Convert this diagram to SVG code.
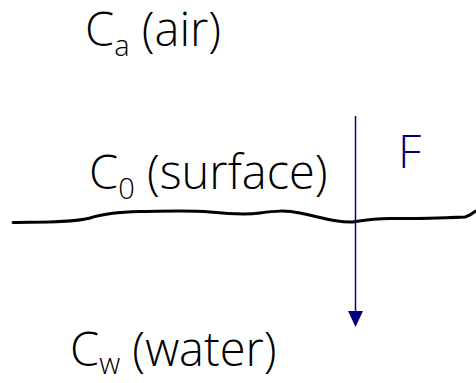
<svg xmlns="http://www.w3.org/2000/svg" width="476" height="383" viewBox="0 0 476 383">
<style>
.t{font-family:"Open Sans","Noto Sans",sans-serif;font-weight:300;font-size:47px;fill:#000}
.s{font-size:29px}
.f{font-family:"Open Sans","Noto Sans",sans-serif;font-weight:300;font-size:46px;fill:#000080}
</style>
<defs>
<marker id="ah" markerWidth="16" markerHeight="16" refX="2" refY="8" orient="auto" markerUnits="userSpaceOnUse" viewBox="0 0 16 16">
<path d="M0,0.5 L16,8 L0,15.5 Z" fill="#000080"/>
</marker>
</defs>
<rect width="476" height="383" fill="#fff"/>
<g id="surface-line">
<path d="M13,222.5 C40,222 70,223 90,218 C105,213 120,212 140,211.5 C170,211 190,210 210,212 C230,214 245,215 260,213 C275,211 285,210 300,213 C320,217 335,223 353,222 C365,220 375,218 395,218.5 C415,219 440,218 465,217 C470,216 472,213 476,211" fill="none" stroke="#000" stroke-width="3" stroke-linecap="round"/>
</g>
<g id="air"><text class="t" x="85" y="46">C<tspan class="s" dy="10">a</tspan><tspan dy="-10"> (air)</tspan></text></g>
<g id="surface"><text class="t" x="89" y="189">C<tspan class="s" dy="10">0</tspan><tspan dy="-10"> (surface)</tspan></text></g>
<g id="water"><text class="t" x="70" y="366">C<tspan class="s" dy="8">w</tspan><tspan dy="-8"> (water)</tspan></text></g>
<g id="flux-label"><text class="f" x="398" y="168">F</text></g>
<g id="connectors">
<line x1="355.5" y1="116" x2="355.5" y2="313" stroke="#000080" stroke-width="1.5" marker-end="url(#ah)"/>
</g>
</svg>
